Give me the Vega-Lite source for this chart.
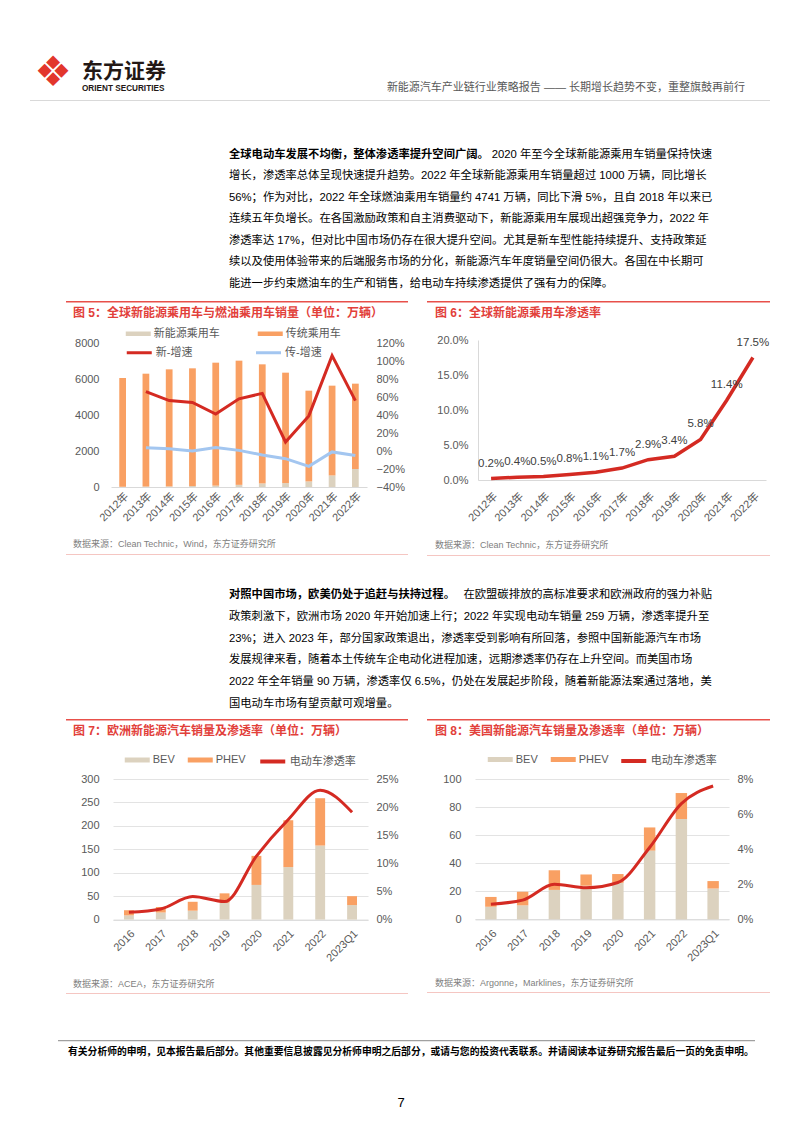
{
"$schema": "https://vega.github.io/schema/vega-lite/v6.json",
"background": "white",
"padding": 0,
"spacing": 0,
"config": {
  "view": {"stroke": null},
  "font": "'Liberation Sans', 'Noto Sans CJK SC', sans-serif",
  "concat": {"spacing": 0},
  "axis": {"labelColor": "#595959", "labelFontSize": 11, "ticks": false, "domainColor": "#d9d9d9", "gridColor": "#e3e3e3"},
  "legend": {"labelColor": "#595959", "labelFontSize": 11, "labelOffset": 8.5}
},
"datasets": {
  "c5": [
    {"year": "2012年", "新能源乘用车": 12, "传统乘用车": 6044, "新-增速": null, "传-增速": null},
    {"year": "2013年", "新能源乘用车": 25, "传统乘用车": 6270, "新-增速": 0.66, "传-增速": 0.037},
    {"year": "2014年", "新能源乘用车": 33, "传统乘用车": 6504, "新-增速": 0.56, "传-增速": 0.026},
    {"year": "2015年", "新能源乘用车": 53, "传统乘用车": 6540, "新-增速": 0.54, "传-增速": 0.0},
    {"year": "2016年", "新能源乘用车": 76, "传统乘用车": 6831, "新-增速": 0.41, "传-增速": 0.04},
    {"year": "2017年", "新能源乘用车": 119, "传统乘用车": 6900, "新-增速": 0.58, "传-增速": 0.007},
    {"year": "2018年", "新能源乘用车": 198, "传统乘用车": 6617, "新-增速": 0.64, "传-增速": -0.044},
    {"year": "2019年", "新能源乘用车": 216, "传统乘用车": 6136, "新-增速": 0.10, "传-增速": -0.085},
    {"year": "2020年", "新能源乘用车": 310, "传统乘用车": 5042, "新-增速": 0.39, "传-增速": -0.17},
    {"year": "2021年", "新能源乘用车": 642, "传统乘用车": 4988, "新-增速": 1.06, "传-增速": -0.01},
    {"year": "2022年", "新能源乘用车": 1000, "传统乘用车": 4741, "新-增速": 0.56, "传-增速": -0.05}
  ],
  "c6": [
    {"year": "2012年", "p": 0.002}, {"year": "2013年", "p": 0.004}, {"year": "2014年", "p": 0.005},
    {"year": "2015年", "p": 0.008}, {"year": "2016年", "p": 0.011}, {"year": "2017年", "p": 0.017},
    {"year": "2018年", "p": 0.029}, {"year": "2019年", "p": 0.034}, {"year": "2020年", "p": 0.058},
    {"year": "2021年", "p": 0.114}, {"year": "2022年", "p": 0.175}
  ],
  "c7": [
    {"year": "2016", "BEV": 9, "PHEV": 11, "pen": 0.013},
    {"year": "2017", "BEV": 15, "PHEV": 12, "pen": 0.019},
    {"year": "2018", "BEV": 19, "PHEV": 19, "pen": 0.041},
    {"year": "2019", "BEV": 36, "PHEV": 20, "pen": 0.032},
    {"year": "2020", "BEV": 74, "PHEV": 62, "pen": 0.113},
    {"year": "2021", "BEV": 112, "PHEV": 100, "pen": 0.178},
    {"year": "2022", "BEV": 158, "PHEV": 101, "pen": 0.23},
    {"year": "2023Q1", "BEV": 31, "PHEV": 19, "pen": 0.191}
  ],
  "c8": [
    {"year": "2016", "BEV": 9, "PHEV": 7, "pen": 0.0087},
    {"year": "2017", "BEV": 10, "PHEV": 9.7, "pen": 0.011},
    {"year": "2018", "BEV": 21, "PHEV": 14, "pen": 0.02},
    {"year": "2019", "BEV": 24, "PHEV": 8, "pen": 0.018},
    {"year": "2020", "BEV": 26, "PHEV": 6.3, "pen": 0.021},
    {"year": "2021", "BEV": 49, "PHEV": 16.5, "pen": 0.041},
    {"year": "2022", "BEV": 71.5, "PHEV": 18.5, "pen": 0.066},
    {"year": "2023Q1", "BEV": 22, "PHEV": 5.3, "pen": 0.076}
  ]
},
"vconcat": [
  {"width": 10, "height": 52, "data": {"values": []}, "mark": {"type": "text", "text": ""}, "encoding": {}},
  {"hconcat": [
    {"width": 30, "height": 1, "data": {"values": []}, "mark": {"type": "text", "text": ""}, "encoding": {}},
    {"width": 46, "height": 40, "data": {"values": [{"t": "❖"}]}, "mark": {"type": "text", "font": "DejaVu Sans", "fontSize": 42, "color": "#e2362c", "baseline": "middle"}, "encoding": {"text": {"field": "t"}}},
    {"width": 6, "height": 1, "data": {"values": []}, "mark": {"type": "text", "text": ""}, "encoding": {}},
    {"vconcat": [
      {"width": 100, "height": 8, "data": {"values": []}, "mark": {"type": "text", "text": ""}, "encoding": {}},
      {"width": 100, "height": 22, "data": {"values": [{"t": "东方证券"}]}, "mark": {"type": "text", "align": "left", "baseline": "middle", "fontSize": 21, "fontWeight": "bold", "color": "#231815"}, "encoding": {"x": {"datum": 0, "type": "quantitative", "scale": {"domain": [0, 1]}, "axis": null}, "text": {"field": "t"}}},
      {"width": 100, "height": 9, "data": {"values": [{"t": "ORIENT SECURITIES"}]}, "mark": {"type": "text", "align": "left", "baseline": "middle", "fontSize": 8.2, "fontWeight": "bold", "color": "#231815"}, "encoding": {"x": {"datum": 0, "type": "quantitative", "scale": {"domain": [0, 1]}, "axis": null}, "text": {"field": "t"}}}
    ], "spacing": 0},
    {"vconcat": [
      {"width": 563, "height": 28, "data": {"values": []}, "mark": {"type": "text", "text": ""}, "encoding": {}},
      {"width": 563, "height": 14, "data": {"values": [{"t": "新能源汽车产业链行业策略报告 —— 长期增长趋势不变，重整旗鼓再前行"}]}, "mark": {"type": "text", "align": "right", "baseline": "middle", "fontSize": 11, "color": "#595959"}, "encoding": {"x": {"datum": 1, "type": "quantitative", "scale": {"domain": [0, 1]}, "axis": null}, "text": {"field": "t"}}}
    ], "spacing": 0}
  ], "spacing": 0},
  {"width": 10, "height": 5, "data": {"values": []}, "mark": {"type": "text", "text": ""}, "encoding": {}},
  {"hconcat": [
    {"width": 30, "height": 1, "data": {"values": []}, "mark": {"type": "text", "text": ""}, "encoding": {}},
    {"width": 740, "height": 1, "view": {"fill": "#d9d9d9", "stroke": null}, "data": {"values": []}, "mark": {"type": "text", "text": ""}, "encoding": {}}
  ], "spacing": 0},
  {"width": 10, "height": 42.25, "data": {"values": []}, "mark": {"type": "text", "text": ""}, "encoding": {}},
  {"hconcat": [
    {"width": 229, "height": 1, "data": {"values": []}, "mark": {"type": "text", "text": ""}, "encoding": {}},
    {"width": 483, "height": 150.5,
     "data": {"values": [
       {"line": 1, "part": "b", "t": "全球电动车发展不均衡，整体渗透率提升空间广阔。"},
       {"line": 1, "part": "r", "t": "2020 年至今全球新能源乘用车销量保持快速"},
       {"line": 2, "part": "n", "t": "增长，渗透率总体呈现快速提升趋势。2022 年全球新能源乘用车销量超过 1000 万辆，同比增长"},
       {"line": 3, "part": "n", "t": "56%；作为对比，2022 年全球燃油乘用车销量约 4741 万辆，同比下滑 5%，且自 2018 年以来已"},
       {"line": 4, "part": "n", "t": "连续五年负增长。在各国激励政策和自主消费驱动下，新能源乘用车展现出超强竞争力，2022 年"},
       {"line": 5, "part": "n", "t": "渗透率达 17%，但对比中国市场仍存在很大提升空间。尤其是新车型性能持续提升、支持政策延"},
       {"line": 6, "part": "n", "t": "续以及使用体验带来的后端服务市场的分化，新能源汽车年度销量空间仍很大。各国在中长期可"},
       {"line": 7, "part": "n", "t": "能进一步约束燃油车的生产和销售，给电动车持续渗透提供了强有力的保障。"}
     ]},
     "encoding": {"y": {"field": "line", "type": "ordinal", "scale": {"type": "band", "domain": [1, 2, 3, 4, 5, 6, 7], "paddingInner": 0, "paddingOuter": 0}, "axis": null}, "text": {"field": "t"}},
     "layer": [
       {"transform": [{"filter": "datum.part == 'b'"}], "mark": {"type": "text", "align": "left", "baseline": "middle", "fontSize": 11.3, "fontWeight": "bold", "color": "#000000"}, "encoding": {"x": {"datum": 0, "type": "quantitative", "scale": {"domain": [0, 1]}, "axis": null}}},
       {"transform": [{"filter": "datum.part == 'r'"}], "mark": {"type": "text", "align": "right", "baseline": "middle", "fontSize": 11.3, "color": "#000000"}, "encoding": {"x": {"datum": 1, "type": "quantitative", "scale": {"domain": [0, 1]}, "axis": null}}},
       {"transform": [{"filter": "datum.part == 'n'"}], "mark": {"type": "text", "align": "left", "baseline": "middle", "fontSize": 11.3, "color": "#000000"}, "encoding": {"x": {"datum": 0, "type": "quantitative", "scale": {"domain": [0, 1]}, "axis": null}}}
     ]}
  ], "spacing": 0},
  {"width": 10, "height": 5.55, "data": {"values": []}, "mark": {"type": "text", "text": ""}, "encoding": {}},
  {"hconcat": [
    {"width": 66, "height": 1, "data": {"values": []}, "mark": {"type": "text", "text": ""}, "encoding": {}},
    {"vconcat": [
      {"width": 342, "height": 1.5, "view": {"fill": "#e8504a", "stroke": null}, "data": {"values": []}, "mark": {"type": "text", "text": ""}, "encoding": {}},
      {"hconcat": [
        {"width": 7, "height": 1, "data": {"values": []}, "mark": {"type": "text", "text": ""}, "encoding": {}},
        {"width": 330, "height": 19, "data": {"values": [{"t": "图 5：全球新能源乘用车与燃油乘用车销量（单位：万辆）"}]}, "mark": {"type": "text", "align": "left", "baseline": "middle", "fontSize": 12, "fontWeight": "bold", "color": "#e2403a"}, "encoding": {"x": {"datum": 0, "type": "quantitative", "scale": {"domain": [0, 1]}, "axis": null}, "text": {"field": "t"}}}
      ], "spacing": 0},
      {"width": 10, "height": 3.95, "data": {"values": []}, "mark": {"type": "text", "text": ""}, "encoding": {}},
      {"hconcat": [
        {"width": 7.5, "height": 1, "data": {"values": []}, "mark": {"type": "text", "text": ""}, "encoding": {}},
        {"width": 256, "height": 144,
         "data": {"name": "c5"},
         "encoding": {"x": {"field": "year", "type": "ordinal", "sort": null, "scale": {"type": "band", "paddingInner": 0.71, "paddingOuter": 0.355}, "axis": {"title": null, "labelAngle": -45, "labelPadding": 3, "domain": true}}},
         "layer": [
           {"transform": [{"fold": ["新能源乘用车", "传统乘用车"], "as": ["s", "v"]}],
            "mark": {"type": "bar"},
            "encoding": {
              "y": {"field": "v", "type": "quantitative", "stack": "zero", "scale": {"domain": [0, 8000]}, "axis": {"title": null, "values": [0, 2000, 4000, 6000, 8000], "format": "d", "grid": false, "domain": false, "labelPadding": 12}},
              "color": {"field": "s", "type": "nominal", "scale": {"domain": ["新能源乘用车", "传统乘用车"], "range": ["#dcd2bf", "#f9a063"]}, "legend": {"title": null, "orient": "none", "legendX": 20.25, "legendY": -16.25, "direction": "horizontal", "columns": 2, "columnPadding": 37, "symbolType": "M-2,-0.36H2V0.36H-2Z", "symbolSize": 156.25}},
              "order": {"field": "s", "sort": "descending"}
            }},
           {"transform": [{"fold": ["新-增速", "传-增速"], "as": ["s2", "g"]}],
            "mark": {"type": "line", "strokeWidth": 3},
            "encoding": {
              "y": {"field": "g", "type": "quantitative", "scale": {"domain": [-0.4, 1.2]}, "axis": {"orient": "right", "title": null, "values": [-0.4, -0.2, 0, 0.2, 0.4, 0.6, 0.8, 1.0, 1.2], "format": ".0%", "grid": false, "domain": false, "labelPadding": 9}},
              "color": {"field": "s2", "type": "nominal", "scale": {"domain": ["新-增速", "传-增速"], "range": ["#d42a22", "#a3c6f0"]}, "legend": {"title": null, "orient": "none", "legendX": 20.25, "legendY": 1.75, "direction": "horizontal", "columns": 2, "columnPadding": 56.25, "symbolType": "M-2,0H2", "symbolSize": 156.25, "symbolStrokeWidth": 3}}
            }}
         ],
         "resolve": {"scale": {"y": "independent", "color": "independent"}}}
      ], "spacing": 0},
      {"width": 10, "height": 15, "data": {"values": []}, "mark": {"type": "text", "text": ""}, "encoding": {}},
      {"hconcat": [
        {"width": 7, "height": 1, "data": {"values": []}, "mark": {"type": "text", "text": ""}, "encoding": {}},
        {"width": 330, "height": 12, "data": {"values": [{"t": "数据来源：Clean Technic，Wind，东方证券研究所"}]}, "mark": {"type": "text", "align": "left", "baseline": "middle", "fontSize": 9, "color": "#808080"}, "encoding": {"x": {"datum": 0, "type": "quantitative", "scale": {"domain": [0, 1]}, "axis": null}, "text": {"field": "t"}}}
      ], "spacing": 0},
      {"width": 10, "height": 3.5, "data": {"values": []}, "mark": {"type": "text", "text": ""}, "encoding": {}},
      {"width": 342, "height": 1, "view": {"fill": "#f5c6c2", "stroke": null}, "data": {"values": []}, "mark": {"type": "text", "text": ""}, "encoding": {}}
    ], "spacing": 0},
    {"width": 19, "height": 1, "data": {"values": []}, "mark": {"type": "text", "text": ""}, "encoding": {}},
    {"vconcat": [
      {"width": 343, "height": 1.5, "view": {"fill": "#e8504a", "stroke": null}, "data": {"values": []}, "mark": {"type": "text", "text": ""}, "encoding": {}},
      {"hconcat": [
        {"width": 8, "height": 1, "data": {"values": []}, "mark": {"type": "text", "text": ""}, "encoding": {}},
        {"width": 330, "height": 19, "data": {"values": [{"t": "图 6：全球新能源乘用车渗透率"}]}, "mark": {"type": "text", "align": "left", "baseline": "middle", "fontSize": 12, "fontWeight": "bold", "color": "#e2403a"}, "encoding": {"x": {"datum": 0, "type": "quantitative", "scale": {"domain": [0, 1]}, "axis": null}, "text": {"field": "t"}}}
      ], "spacing": 0},
      {"width": 10, "height": 11.7, "data": {"values": []}, "mark": {"type": "text", "text": ""}, "encoding": {}},
      {"hconcat": [
        {"width": 8.8, "height": 1, "data": {"values": []}, "mark": {"type": "text", "text": ""}, "encoding": {}},
        {"width": 288, "height": 140,
         "data": {"name": "c6"},
         "encoding": {
           "x": {"field": "year", "type": "ordinal", "sort": null, "scale": {"type": "point", "padding": 0.5}, "axis": {"title": null, "labelAngle": -45, "labelPadding": 10, "domain": true}},
           "y": {"field": "p", "type": "quantitative", "scale": {"domain": [0, 0.2]}, "axis": {"title": null, "values": [0, 0.05, 0.1, 0.15, 0.2], "format": ".1%", "grid": false, "domain": true, "labelPadding": 10}}
         },
         "layer": [
           {"mark": {"type": "line", "color": "#d42a22", "strokeWidth": 3.5}},
           {"mark": {"type": "text", "dy": -15, "fontSize": 11.5, "color": "#404040"}, "encoding": {"text": {"field": "p", "format": ".1%"}}}
         ]}
      ], "spacing": 0},
      {"width": 10, "height": 15.1, "data": {"values": []}, "mark": {"type": "text", "text": ""}, "encoding": {}},
      {"hconcat": [
        {"width": 8, "height": 1, "data": {"values": []}, "mark": {"type": "text", "text": ""}, "encoding": {}},
        {"width": 330, "height": 12, "data": {"values": [{"t": "数据来源：Clean Technic，东方证券研究所"}]}, "mark": {"type": "text", "align": "left", "baseline": "middle", "fontSize": 9, "color": "#808080"}, "encoding": {"x": {"datum": 0, "type": "quantitative", "scale": {"domain": [0, 1]}, "axis": null}, "text": {"field": "t"}}}
      ], "spacing": 0},
      {"width": 10, "height": 3.5, "data": {"values": []}, "mark": {"type": "text", "text": ""}, "encoding": {}},
      {"width": 343, "height": 1, "view": {"fill": "#f5c6c2", "stroke": null}, "data": {"values": []}, "mark": {"type": "text", "text": ""}, "encoding": {}}
    ], "spacing": 0}
  ], "spacing": 0},
  {"width": 10, "height": 27.1, "data": {"values": []}, "mark": {"type": "text", "text": ""}, "encoding": {}},
  {"hconcat": [
    {"width": 229, "height": 1, "data": {"values": []}, "mark": {"type": "text", "text": ""}, "encoding": {}},
    {"width": 483, "height": 130.8,
     "data": {"values": [
       {"line": 1, "part": "b", "t": "对照中国市场，欧美仍处于追赶与扶持过程。"},
       {"line": 1, "part": "r", "t": "在欧盟碳排放的高标准要求和欧洲政府的强力补贴"},
       {"line": 2, "part": "n", "t": "政策刺激下，欧洲市场 2020 年开始加速上行；2022 年实现电动车销量 259 万辆，渗透率提升至"},
       {"line": 3, "part": "n", "t": "23%；进入 2023 年，部分国家政策退出，渗透率受到影响有所回落，参照中国新能源汽车市场"},
       {"line": 4, "part": "n", "t": "发展规律来看，随着本土传统车企电动化进程加速，远期渗透率仍存在上升空间。而美国市场"},
       {"line": 5, "part": "n", "t": "2022 年全年销量 90 万辆，渗透率仅 6.5%，仍处在发展起步阶段，随着新能源法案通过落地，美"},
       {"line": 6, "part": "n", "t": "国电动车市场有望贡献可观增量。"}
     ]},
     "encoding": {"y": {"field": "line", "type": "ordinal", "scale": {"type": "band", "domain": [1, 2, 3, 4, 5, 6], "paddingInner": 0, "paddingOuter": 0}, "axis": null}, "text": {"field": "t"}},
     "layer": [
       {"transform": [{"filter": "datum.part == 'b'"}], "mark": {"type": "text", "align": "left", "baseline": "middle", "fontSize": 11.3, "fontWeight": "bold", "color": "#000000"}, "encoding": {"x": {"datum": 0, "type": "quantitative", "scale": {"domain": [0, 1]}, "axis": null}}},
       {"transform": [{"filter": "datum.part == 'r'"}], "mark": {"type": "text", "align": "right", "baseline": "middle", "fontSize": 11.3, "color": "#000000"}, "encoding": {"x": {"datum": 1, "type": "quantitative", "scale": {"domain": [0, 1]}, "axis": null}}},
       {"transform": [{"filter": "datum.part == 'n'"}], "mark": {"type": "text", "align": "left", "baseline": "middle", "fontSize": 11.3, "color": "#000000"}, "encoding": {"x": {"datum": 0, "type": "quantitative", "scale": {"domain": [0, 1]}, "axis": null}}}
     ]}
  ], "spacing": 0},
  {"width": 10, "height": 3.6, "data": {"values": []}, "mark": {"type": "text", "text": ""}, "encoding": {}},
  {"hconcat": [
    {"width": 66, "height": 1, "data": {"values": []}, "mark": {"type": "text", "text": ""}, "encoding": {}},
    {"vconcat": [
      {"width": 342, "height": 1.5, "view": {"fill": "#e8504a", "stroke": null}, "data": {"values": []}, "mark": {"type": "text", "text": ""}, "encoding": {}},
      {"hconcat": [
        {"width": 7, "height": 1, "data": {"values": []}, "mark": {"type": "text", "text": ""}, "encoding": {}},
        {"width": 330, "height": 19, "data": {"values": [{"t": "图 7：欧洲新能源汽车销量及渗透率（单位：万辆）"}]}, "mark": {"type": "text", "align": "left", "baseline": "middle", "fontSize": 12, "fontWeight": "bold", "color": "#e2403a"}, "encoding": {"x": {"datum": 0, "type": "quantitative", "scale": {"domain": [0, 1]}, "axis": null}, "text": {"field": "t"}}}
      ], "spacing": 0},
      {"width": 10, "height": 12.2, "data": {"values": []}, "mark": {"type": "text", "text": ""}, "encoding": {}},
      {"hconcat": [
        {"width": 13.65, "height": 1, "data": {"values": []}, "mark": {"type": "text", "text": ""}, "encoding": {}},
        {"width": 255, "height": 140.6,
         "data": {"name": "c7"},
         "encoding": {"x": {"field": "year", "type": "ordinal", "sort": null, "scale": {"type": "band", "paddingInner": 0.69, "paddingOuter": 0.345}, "axis": {"title": null, "labelAngle": -45, "labelPadding": 8, "domain": true}}},
         "layer": [
           {"transform": [{"fold": ["BEV", "PHEV"], "as": ["s", "v"]}],
            "mark": {"type": "bar"},
            "encoding": {
              "y": {"field": "v", "type": "quantitative", "stack": "zero", "scale": {"domain": [0, 300]}, "axis": {"title": null, "values": [0, 50, 100, 150, 200, 250, 300], "grid": true, "domain": false, "labelPadding": 14}},
              "color": {"field": "s", "type": "nominal", "scale": {"domain": ["BEV", "PHEV"], "range": ["#dcd2bf", "#f9a063"]}, "legend": {"title": null, "orient": "none", "legendX": 17.25, "legendY": -26, "direction": "horizontal", "columns": 2, "columnPadding": 12, "symbolType": "M-2,-0.4H2V0.4H-2Z", "symbolSize": 156.25}},
              "order": {"field": "s", "sort": "ascending"}
            }},
           {"mark": {"type": "line", "interpolate": "monotone", "strokeWidth": 3},
            "encoding": {
              "y": {"field": "pen", "type": "quantitative", "scale": {"domain": [0, 0.25]}, "axis": {"orient": "right", "title": null, "values": [0, 0.05, 0.1, 0.15, 0.2, 0.25], "format": ".0%", "grid": false, "domain": false, "labelPadding": 8}},
              "color": {"datum": "电动车渗透率", "scale": {"range": ["#d42a22"]}, "legend": {"title": null, "orient": "none", "legendX": 151.25, "legendY": -26, "symbolType": "M-2,0H2", "symbolSize": 156.25, "symbolStrokeWidth": 4}}
            }}
         ],
         "resolve": {"scale": {"y": "independent", "color": "independent"}}}
      ], "spacing": 0},
      {"width": 10, "height": 13.3, "data": {"values": []}, "mark": {"type": "text", "text": ""}, "encoding": {}},
      {"hconcat": [
        {"width": 7, "height": 1, "data": {"values": []}, "mark": {"type": "text", "text": ""}, "encoding": {}},
        {"width": 330, "height": 12, "data": {"values": [{"t": "数据来源：ACEA，东方证券研究所"}]}, "mark": {"type": "text", "align": "left", "baseline": "middle", "fontSize": 9, "color": "#808080"}, "encoding": {"x": {"datum": 0, "type": "quantitative", "scale": {"domain": [0, 1]}, "axis": null}, "text": {"field": "t"}}}
      ], "spacing": 0},
      {"width": 10, "height": 3, "data": {"values": []}, "mark": {"type": "text", "text": ""}, "encoding": {}},
      {"width": 342, "height": 1, "view": {"fill": "#f5c6c2", "stroke": null}, "data": {"values": []}, "mark": {"type": "text", "text": ""}, "encoding": {}}
    ], "spacing": 0},
    {"width": 19, "height": 1, "data": {"values": []}, "mark": {"type": "text", "text": ""}, "encoding": {}},
    {"vconcat": [
      {"width": 343, "height": 1.5, "view": {"fill": "#e8504a", "stroke": null}, "data": {"values": []}, "mark": {"type": "text", "text": ""}, "encoding": {}},
      {"hconcat": [
        {"width": 8, "height": 1, "data": {"values": []}, "mark": {"type": "text", "text": ""}, "encoding": {}},
        {"width": 330, "height": 19, "data": {"values": [{"t": "图 8：美国新能源汽车销量及渗透率（单位：万辆）"}]}, "mark": {"type": "text", "align": "left", "baseline": "middle", "fontSize": 12, "fontWeight": "bold", "color": "#e2403a"}, "encoding": {"x": {"datum": 0, "type": "quantitative", "scale": {"domain": [0, 1]}, "axis": null}, "text": {"field": "t"}}}
      ], "spacing": 0},
      {"width": 10, "height": 11.3, "data": {"values": []}, "mark": {"type": "text", "text": ""}, "encoding": {}},
      {"hconcat": [
        {"width": 14.65, "height": 1, "data": {"values": []}, "mark": {"type": "text", "text": ""}, "encoding": {}},
        {"width": 254, "height": 140.4,
         "data": {"name": "c8"},
         "encoding": {"x": {"field": "year", "type": "ordinal", "sort": null, "scale": {"type": "band", "paddingInner": 0.64, "paddingOuter": 0.32}, "axis": {"title": null, "labelAngle": -45, "labelPadding": 8, "domain": true}}},
         "layer": [
           {"transform": [{"fold": ["BEV", "PHEV"], "as": ["s", "v"]}],
            "mark": {"type": "bar"},
            "encoding": {
              "y": {"field": "v", "type": "quantitative", "stack": "zero", "scale": {"domain": [0, 100]}, "axis": {"title": null, "values": [0, 20, 40, 60, 80, 100], "grid": true, "domain": false, "labelPadding": 14}},
              "color": {"field": "s", "type": "nominal", "scale": {"domain": ["BEV", "PHEV"], "range": ["#dcd2bf", "#f9a063"]}, "legend": {"title": null, "orient": "none", "legendX": 18.25, "legendY": -26.5, "direction": "horizontal", "columns": 2, "columnPadding": 12, "symbolType": "M-2,-0.4H2V0.4H-2Z", "symbolSize": 156.25}},
              "order": {"field": "s", "sort": "ascending"}
            }},
           {"mark": {"type": "line", "interpolate": "monotone", "strokeWidth": 3},
            "encoding": {
              "y": {"field": "pen", "type": "quantitative", "scale": {"domain": [0, 0.08]}, "axis": {"orient": "right", "title": null, "values": [0, 0.02, 0.04, 0.06, 0.08], "format": ".0%", "grid": false, "domain": false, "labelPadding": 8}},
              "color": {"datum": "电动车渗透率", "scale": {"range": ["#d42a22"]}, "legend": {"title": null, "orient": "none", "legendX": 150.25, "legendY": -26.5, "symbolType": "M-2,0H2", "symbolSize": 156.25, "symbolStrokeWidth": 4}}
            }}
         ],
         "resolve": {"scale": {"y": "independent", "color": "independent"}}}
      ], "spacing": 0},
      {"width": 10, "height": 13.9, "data": {"values": []}, "mark": {"type": "text", "text": ""}, "encoding": {}},
      {"hconcat": [
        {"width": 8, "height": 1, "data": {"values": []}, "mark": {"type": "text", "text": ""}, "encoding": {}},
        {"width": 330, "height": 12, "data": {"values": [{"t": "数据来源：Argonne，Marklines，东方证券研究所"}]}, "mark": {"type": "text", "align": "left", "baseline": "middle", "fontSize": 9, "color": "#808080"}, "encoding": {"x": {"datum": 0, "type": "quantitative", "scale": {"domain": [0, 1]}, "axis": null}, "text": {"field": "t"}}}
      ], "spacing": 0},
      {"width": 10, "height": 3, "data": {"values": []}, "mark": {"type": "text", "text": ""}, "encoding": {}},
      {"width": 343, "height": 1, "view": {"fill": "#f5c6c2", "stroke": null}, "data": {"values": []}, "mark": {"type": "text", "text": ""}, "encoding": {}}
    ], "spacing": 0}
  ], "spacing": 0},
  {"width": 10, "height": 46, "data": {"values": []}, "mark": {"type": "text", "text": ""}, "encoding": {}},
  {"hconcat": [
    {"width": 58, "height": 1, "data": {"values": []}, "mark": {"type": "text", "text": ""}, "encoding": {}},
    {"width": 697, "height": 1.2, "view": {"fill": "#a0a0a0", "stroke": null}, "data": {"values": []}, "mark": {"type": "text", "text": ""}, "encoding": {}}
  ], "spacing": 0},
  {"width": 10, "height": 3.8, "data": {"values": []}, "mark": {"type": "text", "text": ""}, "encoding": {}},
  {"hconcat": [
    {"width": 68, "height": 1, "data": {"values": []}, "mark": {"type": "text", "text": ""}, "encoding": {}},
    {"width": 690, "height": 12, "data": {"values": [{"t": "有关分析师的申明，见本报告最后部分。其他重要信息披露见分析师申明之后部分，或请与您的投资代表联系。并请阅读本证券研究报告最后一页的免责申明。"}]}, "mark": {"type": "text", "align": "left", "baseline": "middle", "fontSize": 9.8, "fontWeight": "bold", "color": "#000000"}, "encoding": {"x": {"datum": 0, "type": "quantitative", "scale": {"domain": [0, 1]}, "axis": null}, "text": {"field": "t"}}}
  ], "spacing": 0},
  {"width": 10, "height": 38, "data": {"values": []}, "mark": {"type": "text", "text": ""}, "encoding": {}},
  {"hconcat": [
    {"width": 390, "height": 1, "data": {"values": []}, "mark": {"type": "text", "text": ""}, "encoding": {}},
    {"width": 22, "height": 14, "data": {"values": [{"t": "7"}]}, "mark": {"type": "text", "baseline": "middle", "fontSize": 13, "color": "#000000"}, "encoding": {"text": {"field": "t"}}}
  ], "spacing": 0}
]
}
